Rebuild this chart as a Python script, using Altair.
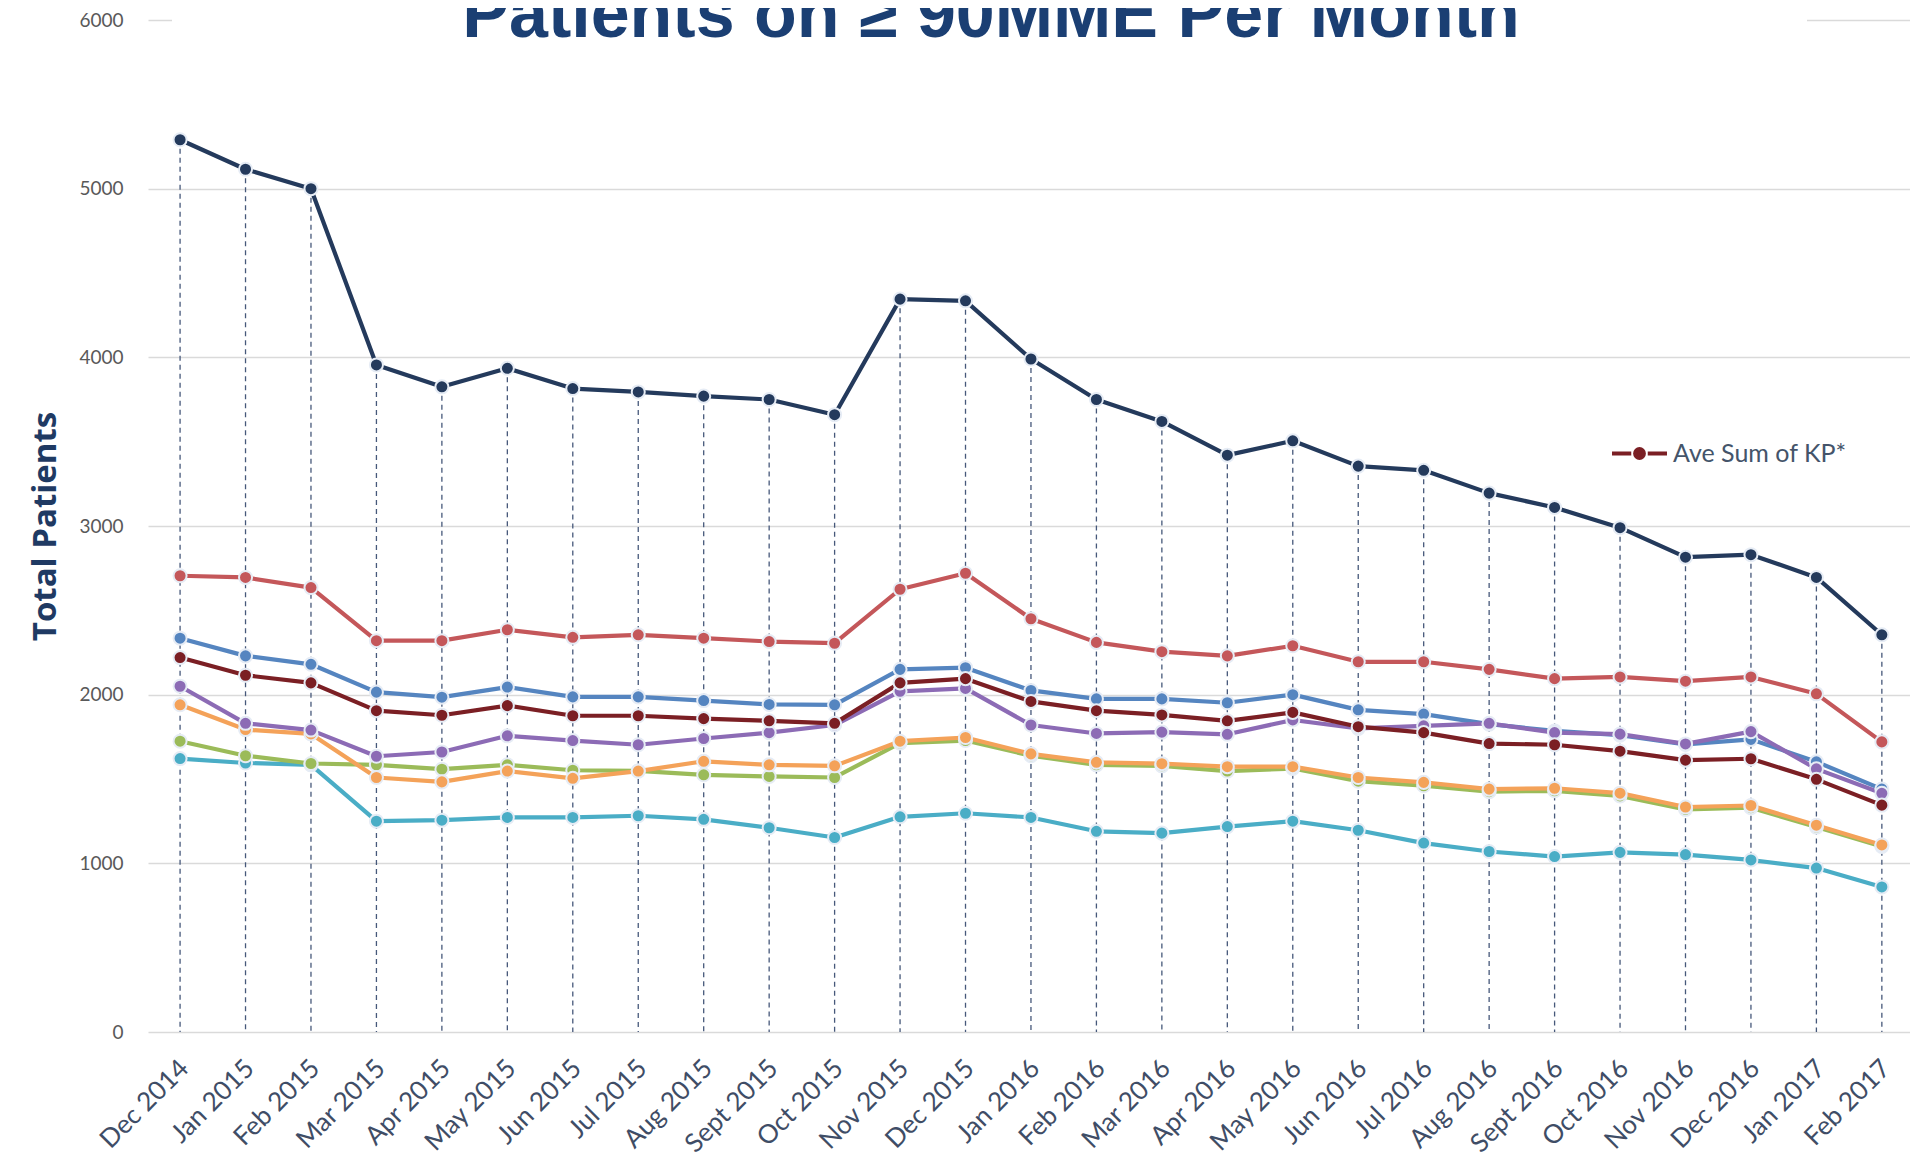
import json
import altair as alt
import pandas as pd

months = ["Dec 2014", "Jan 2015", "Feb 2015", "Mar 2015", "Apr 2015", "May 2015",
          "Jun 2015", "Jul 2015", "Aug 2015", "Sept 2015", "Oct 2015", "Nov 2015",
          "Dec 2015", "Jan 2016", "Feb 2016", "Mar 2016", "Apr 2016", "May 2016",
          "Jun 2016", "Jul 2016", "Aug 2016", "Sept 2016", "Oct 2016", "Nov 2016",
          "Dec 2016", "Jan 2017", "Feb 2017"]

navy = [5290, 5115, 5000, 3955, 3825, 3935, 3815, 3795, 3770, 3750, 3660, 4345, 4335,
        3990, 3750, 3620, 3420, 3505, 3355, 3330, 3195, 3110, 2990, 2815, 2830, 2695, 2355]
red = [2705, 2695, 2635, 2320, 2320, 2385, 2340, 2355, 2335, 2315, 2305, 2625, 2720,
       2450, 2310, 2255, 2230, 2290, 2195, 2195, 2150, 2095, 2105, 2080, 2105, 2005, 1720]
blue = [2335, 2230, 2180, 2015, 1985, 2045, 1987, 1987, 1965, 1942, 1940, 2150, 2160,
        2025, 1975, 1975, 1952, 2000, 1910, 1885, 1825, 1785, 1760, 1705, 1735, 1602, 1440]
maroon = [2220, 2115, 2070, 1905, 1878, 1935, 1875, 1875, 1858, 1845, 1830, 2070, 2095,
          1960, 1905, 1880, 1845, 1895, 1810, 1775, 1710, 1703, 1665, 1612, 1620, 1498, 1345]
purple = [2050, 1830, 1790, 1635, 1660, 1756, 1728, 1703, 1740, 1775, 1820, 2020, 2037,
          1820, 1770, 1778, 1765, 1850, 1800, 1815, 1830, 1775, 1766, 1708, 1781, 1560, 1415]
orange = [1940, 1793, 1767, 1509, 1483, 1547, 1504, 1547, 1605, 1584, 1578, 1724, 1746,
          1649, 1599, 1591, 1573, 1573, 1509, 1480, 1440, 1445, 1416, 1334, 1343, 1226, 1109]
green = [1724, 1638, 1592, 1584, 1558, 1584, 1552, 1548, 1525, 1515, 1509, 1713, 1728,
         1638, 1584, 1578, 1547, 1562, 1487, 1460, 1425, 1430, 1400, 1320, 1330, 1215, 1100]
cyan = [1621, 1595, 1584, 1250, 1256, 1272, 1272, 1282, 1261, 1211, 1153, 1276, 1297,
        1272, 1190, 1179, 1218, 1250, 1196, 1120, 1070, 1040, 1065, 1052, 1020, 972, 860]

names = ["Series 1", "Series 2", "Series 3", "Series 4", "Series 5",
         "Ave Sum of KP*", "Series 6", "Series 7"]
series_values = [cyan, green, orange, blue, purple, maroon, red, navy]
series_colors = ["#4aadc6", "#9bbb59", "#f4a259", "#5585c0", "#8c6bb5", "#7b1f24",
                 "#c4575a", "#243a5c"]

title_text = "Patients on ≥ 90MME Per Month"

rows = []
for name, vals in zip(names, series_values):
    for i, v in enumerate(vals):
        rows.append({"idx": i, "month": months[i], "value": v, "series": name})
df = pd.DataFrame(rows)
df_top = pd.DataFrame({"idx": list(range(len(months))), "value": navy})

label_expr = json.dumps(months) + "[datum.value]"

x_enc = alt.X("idx:Q",
              scale=alt.Scale(domain=[-0.49, 26.43], nice=False, zero=False),
              axis=alt.Axis(values=list(range(len(months))), labelExpr=label_expr,
                            labelAngle=-45, labelAlign="right", labelBaseline="middle",
                            labelPadding=32, labelOffset=4,
                            labelFont="Lato", labelFontSize=26, labelColor="#3f4d66",
                            domain=False, domainColor="transparent",
                            ticks=False, grid=False, title=None,
                            labelOverlap=False))
y_scale = alt.Scale(domain=[0, 6000], nice=False)
y_enc = alt.Y("value:Q", scale=y_scale,
              axis=alt.Axis(values=[0, 1000, 2000, 3000, 4000, 5000, 6000], format="d",
                            labelFont="Lato", labelFontSize=19, labelColor="#595959",
                            labelPadding=25, domain=False, domainColor="transparent",
                            ticks=False,
                            grid=True, gridColor="#dadada", gridWidth=1.5,
                            title="Total Patients", titleFont="Open Sans",
                            titleFontSize=33, titleFontWeight="bold",
                            titleColor="#1f3a63", titleX=-103, titleY=506,
                            titleAngle=-90, titleAlign="center",
                            titleBaseline="middle"))

color_scale = alt.Scale(domain=names, range=series_colors)

cover = alt.Chart(pd.DataFrame({"a": [0]})).mark_rect(color="white").encode(
    x=alt.value(24), x2=alt.value(1659), y=alt.value(-12), y2=alt.value(12))

title_mark = alt.Chart(pd.DataFrame({"t": [title_text]})).mark_text(
    font="Liberation Sans, Arial, sans-serif", fontSize=70, fontWeight="bold",
    color="#1b3f73", align="center", baseline="alphabetic").encode(
    text="t:N", x=alt.value(843), y=alt.value(17))

drops = alt.Chart(df_top).mark_rule(color="#46587a", strokeWidth=1.3,
                                    strokeDash=[5, 4]).encode(
    x=x_enc, y=y_enc, y2=alt.datum(0))

lines = alt.Chart(df).mark_line(strokeWidth=4.2, strokeJoin="round").encode(
    x=x_enc, y=y_enc,
    color=alt.Color("series:N", scale=color_scale,
                    legend=alt.Legend(values=["Ave Sum of KP*"], orient="none",
                                      legendX=1462, legendY=404, title=None,
                                      symbolType="M-1,0L-0.3,0M0.3,0L1,0M0.16,0A0.16,0.16,0,1,1,-0.16,0A0.16,0.16,0,1,1,0.16,0",
                                      symbolSize=3025, symbolStrokeWidth=4,
                                      labelFont="Lato", labelFontSize=25,
                                      labelColor="#44546a", labelOffset=4,
                                      labelLimit=600, padding=0)),
    detail="series:N")

points = alt.Chart(df).mark_circle(size=170, opacity=1, stroke="#e6ecf5",
                                    strokeWidth=2).encode(
    x=x_enc, y=y_enc,
    color=alt.Color("series:N", scale=color_scale, legend=None))

chart = alt.layer(cover, drops, lines, points, title_mark).properties(
    width=1762, height=1012,
    padding={"left": 140, "top": 12, "right": 0, "bottom": 126},
    autosize=alt.AutoSizeParams(type="none"),
    view=alt.ViewBackground(stroke="transparent", strokeWidth=0),
).configure_view(stroke="transparent", strokeWidth=0).configure_axis(
    domain=False, domainColor="transparent").configure_axisX(
    grid=False, domain=False).configure_axisY(domain=False).configure(
    background="white")

chart.save("out.html", embed_options={"renderer": "svg", "actions": False})
